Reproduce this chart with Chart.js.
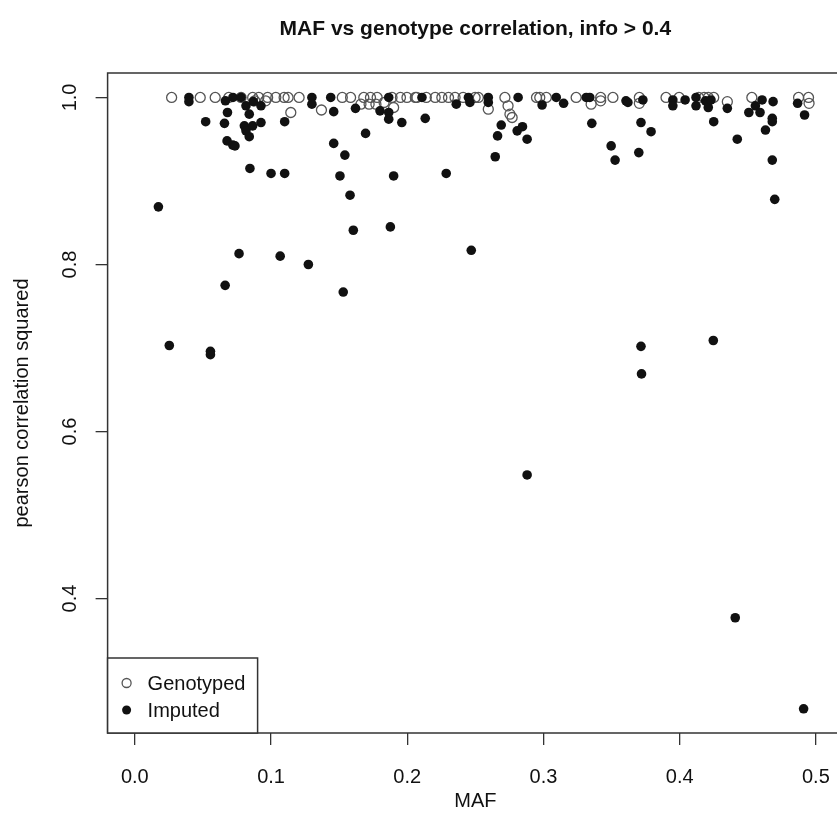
<!DOCTYPE html>
<html lang="en">
<head>
    <meta charset="UTF-8">
    <title>MAF vs genotype correlation</title>
    <style>
        html, body {
            margin: 0;
            padding: 0;
            background: #fff;
            overflow: hidden;
        }
        #wrap {
            width: 850px;
            height: 833px;
        }
    </style>
    <script src="https://cdn.jsdelivr.net/npm/chart.js"></script>
</head>
<body>
    <div id="wrap">
        <canvas id="maf-chart" width="850" height="833"></canvas>
    </div>

    <script>
        // tick labels
        const xTicks = [0.0, 0.1, 0.2, 0.3, 0.4, 0.5];
        const yTicks = [0.4, 0.6, 0.8, 1.0];

        // Genotyped SNPs (open circles)
        const genoX = [0.027, 0.048, 0.059, 0.069, 0.078, 0.0865, 0.091, 0.0975, 0.1035, 0.1096,
            0.1125, 0.1206, 0.1145, 0.137, 0.1523, 0.1584, 0.1681, 0.173, 0.1779, 0.1888,
            0.195, 0.1998, 0.2059, 0.2205, 0.2254, 0.2303, 0.2351, 0.2498, 0.2522, 0.2717,
            0.2949, 0.2973, 0.3021, 0.324, 0.342, 0.351, 0.3704, 0.390, 0.3996, 0.414,
            0.418, 0.421, 0.425, 0.453, 0.4873, 0.4946, 0.166, 0.172, 0.177, 0.183,
            0.190, 0.2595, 0.274, 0.2754, 0.277, 0.335, 0.342, 0.3704, 0.435, 0.495,
            0.088, 0.096, 0.207, 0.214, 0.241];
        const genoY = [1.0, 1.0, 1.0, 1.0, 1.0, 1.0, 1.0, 1.0, 1.0, 1.0,
            1.0, 1.0, 0.982, 0.985, 1.0, 1.0, 1.0, 1.0, 1.0, 1.0,
            1.0, 1.0, 1.0, 1.0, 1.0, 1.0, 1.0, 1.0, 1.0, 1.0,
            1.0, 1.0, 1.0, 1.0, 1.0, 1.0, 1.0, 1.0, 1.0, 1.0,
            1.0, 1.0, 1.0, 1.0, 1.0, 1.0, 0.992, 0.992, 0.992, 0.994,
            0.988, 0.986, 0.990, 0.980, 0.976, 0.992, 0.996, 0.993, 0.995, 0.993,
            0.996, 0.996, 1.0, 1.0, 1.0];

        // Imputed SNPs (filled circles)
        const impX = [0.0173, 0.0253, 0.0555, 0.0555, 0.0397, 0.0397, 0.052, 0.0658, 0.0665, 0.068,
            0.0677, 0.0719, 0.0735, 0.0663, 0.0765, 0.072, 0.078, 0.0804, 0.0816, 0.084,
            0.0865, 0.0926, 0.084, 0.0816, 0.0926, 0.087, 0.0845, 0.100, 0.1067, 0.110,
            0.110, 0.130, 0.130, 0.1274, 0.1438, 0.146, 0.146, 0.1506, 0.1542, 0.153,
            0.158, 0.1604, 0.162, 0.1694, 0.180, 0.1864, 0.1864, 0.1864, 0.1876, 0.190,
            0.196, 0.2108, 0.2132, 0.2286, 0.236, 0.2449, 0.246, 0.247, 0.2595, 0.2595,
            0.2646, 0.2663, 0.269, 0.2807, 0.2814, 0.2846, 0.288, 0.288, 0.299, 0.3094,
            0.3148, 0.3314, 0.334, 0.3355, 0.3497, 0.3526, 0.3606, 0.362, 0.370, 0.3716,
            0.373, 0.3716, 0.372, 0.379, 0.395, 0.395, 0.404, 0.412, 0.412, 0.419,
            0.421, 0.423, 0.425, 0.4247, 0.435, 0.4408, 0.4423, 0.4508, 0.4556, 0.459,
            0.4605, 0.463, 0.468, 0.468, 0.4686, 0.468, 0.4698, 0.4866, 0.4917, 0.491];
        const impY = [0.869, 0.703, 0.696, 0.692, 1.0, 0.995, 0.971, 0.969, 0.996, 0.982,
            0.948, 0.943, 0.942, 0.775, 0.813, 1.0, 1.0, 0.966, 0.960, 0.953,
            0.966, 0.970, 0.980, 0.990, 0.990, 0.995, 0.915, 0.909, 0.810, 0.909,
            0.971, 1.0, 0.992, 0.800, 1.0, 0.983, 0.945, 0.906, 0.931, 0.767,
            0.883, 0.841, 0.987, 0.957, 0.984, 1.0, 0.982, 0.974, 0.845, 0.906,
            0.970, 1.0, 0.975, 0.909, 0.992, 1.0, 0.994, 0.817, 1.0, 0.994,
            0.929, 0.954, 0.967, 0.960, 1.0, 0.965, 0.950, 0.548, 0.991, 1.0,
            0.993, 1.0, 1.0, 0.969, 0.942, 0.925, 0.996, 0.994, 0.934, 0.970,
            0.997, 0.702, 0.669, 0.959, 0.997, 0.990, 0.997, 1.0, 0.990, 0.996,
            0.988, 0.997, 0.971, 0.709, 0.987, 0.377, 0.950, 0.982, 0.990, 0.982,
            0.997, 0.961, 0.975, 0.971, 0.995, 0.925, 0.878, 0.993, 0.979, 0.268];

        const FONT = "'Liberation Sans', Arial, sans-serif";

        // R style frame, title, rotated y labels, axis titles and legend
        const rStyle = {
            id: 'rStyle',
            afterDraw(chart) {
                const ctx = chart.ctx;
                const area = chart.chartArea;
                const ys = chart.scales.y;
                const cx = (area.left + area.right) / 2;
                const cy = (area.top + area.bottom) / 2;
                ctx.save();

                // plot frame
                ctx.strokeStyle = '#333';
                ctx.lineWidth = 1.5;
                ctx.strokeRect(area.left, area.top, area.right - area.left, area.bottom - area.top);

                ctx.fillStyle = '#111';
                ctx.textAlign = 'center';
                ctx.textBaseline = 'middle';

                // title
                ctx.font = 'bold 21px ' + FONT;
                ctx.fillText('MAF vs genotype correlation, info > 0.4', cx, 29);

                // y tick labels, rotated like R
                ctx.font = '20px ' + FONT;
                yTicks.forEach(v => {
                    ctx.save();
                    ctx.translate(70, ys.getPixelForValue(v));
                    ctx.rotate(-Math.PI / 2);
                    ctx.fillText(v.toFixed(1), 0, 0);
                    ctx.restore();
                });

                // axis titles
                ctx.fillText('MAF', cx, 801);
                ctx.save();
                ctx.translate(22, cy);
                ctx.rotate(-Math.PI / 2);
                ctx.fillText('pearson correlation squared', 0, 0);
                ctx.restore();

                // legend box
                const lx = area.left, ly = 658, lw = 150, lh = area.bottom - ly;
                ctx.fillStyle = '#fff';
                ctx.fillRect(lx, ly, lw, lh);
                ctx.strokeStyle = '#333';
                ctx.lineWidth = 1.5;
                ctx.strokeRect(lx, ly, lw, lh);

                ctx.beginPath();
                ctx.arc(lx + 19, 683, 4.5, 0, Math.PI * 2);
                ctx.strokeStyle = '#555';
                ctx.lineWidth = 1.3;
                ctx.stroke();
                ctx.beginPath();
                ctx.arc(lx + 19, 710, 4.5, 0, Math.PI * 2);
                ctx.fillStyle = '#111';
                ctx.fill();

                ctx.textAlign = 'left';
                ctx.fillText('Genotyped', lx + 40, 684);
                ctx.fillText('Imputed', lx + 40, 711);
                ctx.restore();
            }
        };

        const ctx = document.getElementById('maf-chart').getContext('2d');
        new Chart(ctx, {
            type: 'scatter',
            data: {
                datasets: [
                    {
                        label: 'Imputed',
                        data: impX.map((x, i) => ({ x: x, y: impY[i] })),
                        backgroundColor: '#111',
                        borderColor: '#111',
                        borderWidth: 0,
                        pointRadius: 4.8,
                        order: 0
                    },
                    {
                        label: 'Genotyped',
                        data: genoX.map((x, i) => ({ x: x, y: genoY[i] })),
                        backgroundColor: 'rgba(0,0,0,0)',
                        borderColor: '#555',
                        borderWidth: 1.3,
                        pointRadius: 5,
                        order: 1
                    }
                ]
            },
            options: {
                responsive: false,
                animation: false,
                devicePixelRatio: 1,
                layout: { padding: { left: 0, top: 73, right: 4, bottom: 0 } },
                plugins: {
                    legend: { display: false },
                    tooltip: { enabled: false },
                    title: { display: false }
                },
                scales: {
                    x: {
                        type: 'linear',
                        min: -0.02,
                        max: 0.52,
                        afterBuildTicks: s => { s.ticks = xTicks.map(v => ({ value: v })); },
                        afterFit: s => { s.height = 100; },
                        border: { display: false },
                        grid: {
                            drawOnChartArea: false,
                            tickLength: 12,
                            color: '#333',
                            lineWidth: 1.3
                        },
                        ticks: {
                            font: { family: FONT, size: 20 },
                            color: '#111',
                            padding: 20,
                            maxRotation: 0,
                            callback: v => v.toFixed(1)
                        }
                    },
                    y: {
                        type: 'linear',
                        min: 0.239,
                        max: 1.0293,
                        afterBuildTicks: s => { s.ticks = yTicks.map(v => ({ value: v })); },
                        afterFit: s => { s.width = 107.6; },
                        border: { display: false },
                        grid: {
                            drawOnChartArea: false,
                            tickLength: 12,
                            color: '#333',
                            lineWidth: 1.3
                        },
                        ticks: { display: false }
                    }
                }
            },
            plugins: [rStyle]
        });
    </script>
</body>
</html>
